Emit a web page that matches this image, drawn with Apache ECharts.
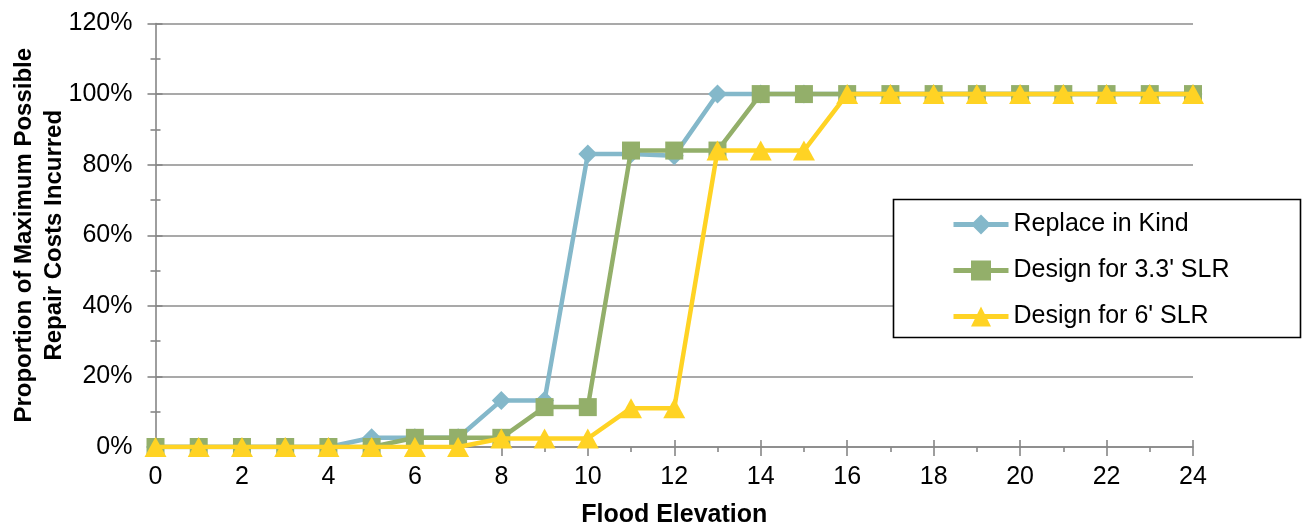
<!DOCTYPE html>
<html>
<head>
<meta charset="utf-8">
<script src="https://cdn.jsdelivr.net/npm/echarts@6/dist/echarts.min.js"></script>
<style>
  html, body { margin: 0; padding: 0; background: #ffffff; }
  #chart { width: 1302px; height: 527px; }
</style>
</head>
<body>
<div id="chart"></div>
<script>
// Flood elevation (x) and share of maximum repair cost incurred (%)
const elevations = [0,1,2,3,4,5,6,7,8,9,10,11,12,13,14,15,16,17,18,19,20,21,22,23,24];
const seriesNames = ['Replace in Kind', "Design for 3.3' SLR", "Design for 6' SLR"];
const replaceInKind = [0,0,0,0,0,2.6,2.6,2.6,13.2,13.2,83,83,82.5,100,100,100,100,100,100,100,100,100,100,100,100];
const design33 = [0,0,0,0,0,0,2.6,2.6,2.6,11.3,11.3,84,84,84,100,100,100,100,100,100,100,100,100,100,100];
const design6 = [0,0,0,0,0,0,0,0,2.4,2.4,2.4,11,11,84,84,84,100,100,100,100,100,100,100,100,100];
const yTicks = [0,20,40,60,80,100,120];

const FONT = '"Liberation Sans", Arial, sans-serif';
const AXIS_GRAY = '#868686';
const GRID_GRAY = '#8c8c8c';

const colors = ['#84b8ca', '#93af6a', '#ffd324'];
const symbols = ['diamond', 'rect', 'triangle'];
const symbolSizes = [[19, 19], 18, [22, 20]];
const valueSets = [replaceInKind, design33, design6];

const series = valueSets.map((vals, i) => ({
  name: seriesNames[i],
  type: 'line',
  data: elevations.map((x, j) => [x, vals[j]]),
  symbol: symbols[i],
  symbolSize: symbolSizes[i],
  showAllSymbol: true,
  lineStyle: { color: colors[i], width: 4.5 },
  itemStyle: { color: colors[i] },
  z: 2 + i,
  animation: false
}));

const chart = echarts.init(document.getElementById('chart'), null, { renderer: 'canvas' });

const baseY = { type: 'value', min: 0, max: 120, interval: 20, position: 'left' };
const baseX = { type: 'value', min: 0, max: 24, interval: 2, position: 'bottom' };

chart.setOption({
  backgroundColor: '#ffffff',
  animation: false,
  grid: { left: 155.5, right: 109, top: 23.5, bottom: 80, containLabel: false, outerBoundsMode: 'none' },
  legend: {
    data: seriesNames.map((name, i) => ({
      name: name,
      itemStyle: { color: colors[i] },
      lineStyle: { color: colors[i], width: 5 }
    })),
    orient: 'vertical',
    left: 946,
    top: 207,
    z: 10,
    itemWidth: 55,
    itemHeight: 25,
    itemGap: 21,
    textStyle: { fontFamily: FONT, fontSize: 25, color: '#000' }
  },
  graphic: [{
    type: 'rect',
    shape: { x: 893.5, y: 199.5, width: 407, height: 138 },
    style: { fill: '#ffffff', stroke: '#000000', lineWidth: 1.6 },
    z: 8
  }],
  xAxis: [
    Object.assign({}, baseX, {
      name: 'Flood Elevation',
      nameLocation: 'middle',
      nameGap: 56,
      nameTextStyle: { fontFamily: FONT, fontSize: 25, fontWeight: 'bold', color: '#000' },
      axisLine: { show: true, onZero: false, lineStyle: { color: AXIS_GRAY, width: 1.6 } },
      axisTick: { show: true, inside: false, length: 9, lineStyle: { color: AXIS_GRAY, width: 1.6 } },
      minorTick: { show: true, splitNumber: 2, length: 5, lineStyle: { color: AXIS_GRAY, width: 1.6 } },
      axisLabel: { fontFamily: FONT, fontSize: 25, color: '#000', margin: 18 },
      splitLine: { show: false }
    }),
    Object.assign({}, baseX, {
      axisLine: { show: false },
      axisTick: { show: true, inside: true, length: 7, lineStyle: { color: AXIS_GRAY, width: 1.6 } },
      minorTick: { show: false },
      axisLabel: { show: false },
      splitLine: { show: false }
    })
  ],
  yAxis: [
    Object.assign({}, baseY, {
      name: 'Proportion of Maximum Possible\nRepair Costs Incurred',
      nameLocation: 'middle',
      nameGap: 86,
      nameMoveOverlap: false,
      nameTextStyle: { fontFamily: FONT, fontSize: 24, fontWeight: 'bold', color: '#000', lineHeight: 30 },
      axisLine: { show: true, lineStyle: { color: AXIS_GRAY, width: 1.6 } },
      axisTick: { show: true, inside: false, length: 8, lineStyle: { color: AXIS_GRAY, width: 1.6 } },
      minorTick: { show: true, splitNumber: 2, length: 5, lineStyle: { color: AXIS_GRAY, width: 1.6 } },
      axisLabel: {
        fontFamily: FONT, fontSize: 25, color: '#000', margin: 23,
        formatter: v => (yTicks.indexOf(v) >= 0 ? v + '%' : '')
      },
      splitLine: { show: true, lineStyle: { color: GRID_GRAY, width: 1.6 } }
    }),
    Object.assign({}, baseY, {
      axisLine: { show: false },
      axisTick: { show: true, inside: true, length: 7, lineStyle: { color: AXIS_GRAY, width: 1.6 } },
      minorTick: { show: true, splitNumber: 2, length: 5, lineStyle: { color: AXIS_GRAY, width: 1.6 } },
      axisLabel: { show: false },
      splitLine: { show: false }
    })
  ],
  series: series
});
</script>
</body>
</html>
